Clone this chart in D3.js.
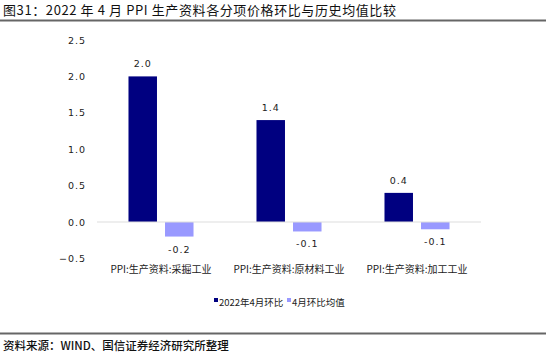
<!DOCTYPE html>
<html><head><meta charset="utf-8">
<script src="https://cdn.jsdelivr.net/npm/d3@7"></script>
<style>body{margin:0;background:#fff}svg{display:block}</style>
</head><body><svg id="c" width="550" height="355"></svg>
<script>
const categories = ["PPI:生产资料:采掘工业", "PPI:生产资料:原材料工业", "PPI:生产资料:加工工业"];
const seriesNames = ["2022年4月环比", "4月环比均值"];
const april2022 = [2.0, 1.4, 0.4];
const aprilAvg = [-0.2, -0.13, -0.1];
const yTicks = [-0.5, 0.0, 0.5, 1.0, 1.5, 2.0, 2.5];
const colors = ["#000080", "#9999FF"];

const svg = d3.select("#c");
const font = "'Noto Sans CJK SC', 'DejaVu Sans', sans-serif";

svg.append("text").attr("x", 3).attr("y", 15).attr("font-family", font)
  .attr("font-size", 13).attr("letter-spacing", "0.6px").attr("fill", "#111")
  .text("图31：2022 年 4 月 PPI 生产资料各分项价格环比与历史均值比较");
svg.append("line").attr("x1", 0).attr("x2", 546).attr("y1", 20.5).attr("y2", 20.5)
  .attr("stroke", "#666").attr("stroke-width", 2);

const y = d3.scaleLinear().domain([-0.5, 2.5]).range([258.4, 40]);
const x0 = d3.scaleBand().domain(categories).range([97, 481]).paddingInner(0.492).paddingOuter(0.246);
const x1 = d3.scaleBand().domain([0, 1]).range([0, x0.bandwidth()]).paddingInner(0.22).paddingOuter(0);

// y labels
const yAxis = svg.append("g").attr("transform", "translate(86,0)")
  .call(d3.axisLeft(y).tickValues(yTicks).tickSize(0).tickPadding(0).tickFormat(d3.format(".1f")));
yAxis.select(".domain").remove();
yAxis.selectAll("text").attr("font-family", "'DejaVu Sans', sans-serif").attr("font-size", 9.5)
  .attr("letter-spacing", "1px").attr("fill", "#222");

const data = categories.map((c, i) => ({c, v: [april2022[i], aprilAvg[i]]}));
const g = svg.append("g");
data.forEach(d => {
  d.v.forEach((v, j) => {
    const xx = x0(d.c) + x1(j);
    g.append("rect").attr("x", xx).attr("width", x1.bandwidth())
      .attr("y", Math.min(y(v), y(0))).attr("height", Math.abs(y(v) - y(0)))
      .attr("fill", colors[j]);
    g.append("text").attr("x", xx + x1.bandwidth() / 2)
      .attr("y", v >= 0 ? y(v) - 9 : y(v) + 16)
      .attr("text-anchor", "middle").attr("font-family", "'DejaVu Sans', sans-serif")
      .attr("font-size", 9.5).attr("letter-spacing", "1px").attr("fill", "#222")
      .text(d3.format(".1f")(v).replace("−", "-"));
  });
});
// zero line
svg.append("line").attr("x1", 97).attr("x2", 481).attr("y1", y(0)).attr("y2", y(0))
  .attr("stroke", "#ddd").attr("stroke-width", 1);

// category labels
const xAxis = svg.append("g").attr("transform", "translate(0,266)")
  .call(d3.axisBottom(x0).tickSize(0).tickPadding(0));
xAxis.select(".domain").remove();
xAxis.selectAll("text").attr("font-family", font).attr("font-size", 10).attr("fill", "#222");

// legend
const legend = [{x: 214, t: seriesNames[0], c: colors[0]}, {x: 287, t: seriesNames[1], c: colors[1]}];
legend.forEach(l => {
  svg.append("rect").attr("x", l.x).attr("y", 298).attr("width", 4).attr("height", 4).attr("fill", l.c);
  svg.append("text").attr("x", l.x + 5).attr("y", 306).attr("font-family", font)
    .attr("font-size", 9.5).attr("fill", "#222").text(l.t);
});

svg.append("line").attr("x1", 0).attr("x2", 546).attr("y1", 333.5).attr("y2", 333.5)
  .attr("stroke", "#666").attr("stroke-width", 2);
svg.append("text").attr("x", 3).attr("y", 350).attr("font-family", font)
  .attr("font-size", 11.5).attr("font-weight", 500).attr("fill", "#111").text("资料来源：WIND、国信证券经济研究所整理");
</script></body></html>
